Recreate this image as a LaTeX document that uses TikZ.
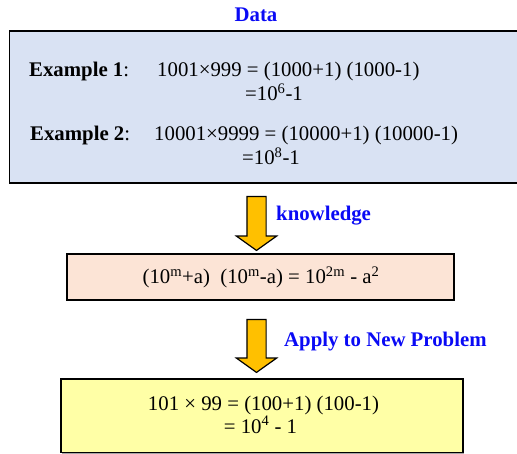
\documentclass[tikz,border=0pt]{standalone}
\usepackage{fontspec}
\setmainfont{Liberation Serif}
\newfontfamily\timesfont{Liberation Serif}
\usepackage{tikz}
\usetikzlibrary{shapes.arrows,shadows,positioning}
\definecolor{DataBlue}{HTML}{D9E2F3}
\definecolor{RulePink}{HTML}{FCE4D6}
\definecolor{NewYellow}{HTML}{FFFFA6}
\definecolor{ArrowGold}{HTML}{FFC000}
\definecolor{LabelBlue}{HTML}{0A0AF5}

\begin{document}
\begin{tikzpicture}[x=1pt,y=-1pt,
      panel/.style={draw=black,line width=1.6pt,inner sep=0pt,drop shadow={shadow xshift=1.2pt,shadow yshift=-1.2pt,fill=gray!70,opacity=1}},
      eqtext/.style={inner sep=0pt,anchor=base west,font=\timesfont\fontsize{20.8}{26}\selectfont},
      steplabel/.style={eqtext,font=\timesfont\fontsize{20.8}{26}\selectfont\bfseries,text=LabelBlue},
      bigarrow/.style={single arrow,draw=black,line width=1.2pt,fill=ArrowGold,shape border rotate=270,minimum width=39pt,single arrow head extend=10.5pt,single arrow tip angle=109,inner sep=9pt}
    ]
      \useasboundingbox (0,0) rectangle (517,454);

      \node[panel,fill=DataBlue,minimum width=510.5pt,minimum height=152pt] (data) at (264.75,107) {};
      \node[panel,fill=RulePink,minimum width=387pt,minimum height=46pt] (rule) at (260.5,277) {};
      \node[panel,fill=NewYellow,minimum width=402pt,minimum height=73.5pt] (newprob) at (262,415.75) {};

      \node[steplabel,anchor=base] (title) at (256,22) {Data};
      \node[eqtext] (ex1) at (29,77) {\textbf{Example 1}:};
      \node[eqtext] (ex1eq) at (157,77) {1001×999 = (1000+1) (1000-1)};
      \node[eqtext] (ex1res) at (245,101) {=10\textsuperscript{6}-1};
      \node[eqtext] (ex2) at (30,141) {\textbf{Example 2}:};
      \node[eqtext] (ex2eq) at (154,141) {10001×9999 = (10000+1) (10000-1)};
      \node[eqtext] (ex2res) at (242,165) {=10\textsuperscript{8}-1};

      \node[bigarrow,minimum height=54pt] (arr1) at (256.5,220) {};
      \node[steplabel] (know) at (276,221) {knowledge};
      \node[eqtext,anchor=base] (ruleeq) at (261,284) {(10\textsuperscript{m}+a)\ \ (10\textsuperscript{m}-a) = 10\textsuperscript{2m} - a\textsuperscript{2}};

      \node[bigarrow,minimum height=53pt] (arr2) at (256.5,342.5) {};
      \node[steplabel] (apply) at (284,347) {Apply to New Problem};
      \node[eqtext,anchor=base] (neweq) at (263.5,410) {101 × 99 = (100+1) (100-1)};
      \node[eqtext,anchor=base] (newres) at (260.5,433) {= 10\textsuperscript{4} - 1};
    \end{tikzpicture}
\end{document}
